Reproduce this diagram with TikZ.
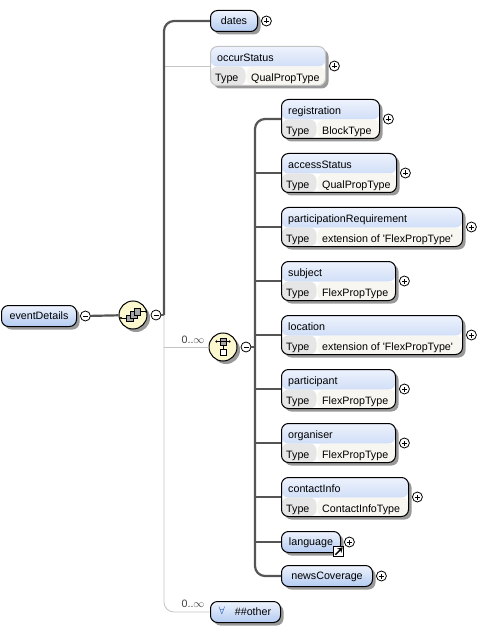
\documentclass[tikz,border=0pt]{standalone}
\usepackage{fontspec}
\setmainfont{Liberation Sans}
\usetikzlibrary{positioning,shadows,arrows.meta}
\definecolor{headtop}{HTML}{EEF3FD}
\definecolor{headbot}{HTML}{B4CBF1}
\definecolor{cellgray}{HTML}{E6E6E6}
\definecolor{cellcream}{HTML}{F8F6F1}
\definecolor{compfill}{HTML}{FBF7CF}
\definecolor{barline}{HTML}{555555}
\definecolor{thinline}{HTML}{C4C4C4}

\newcommand{\elembox}[6]{%
    \node[typedbox,draw=#1,minimum width=#6pt] (#2) at (#4,#5) {};
    \node[lbl] (#2 title) at ([xshift=7pt,yshift=-15.5pt]#2.north west) {#2};
    \node[lbl] (#2 key) at ([xshift=5pt,yshift=-35.5pt]#2.north west) {Type};
    \node[lbl] (#2 val) at ([xshift=41pt,yshift=-35.5pt]#2.north west) {#3};
    \node[plus,right=3pt of #2] (#2 plus) {};
}

\begin{document}
\begin{tikzpicture}[
        x=1pt,y=-1pt,
        font=\fontsize{10.7}{12}\selectfont,
        lbl/.style={inner sep=0pt,anchor=base west},
        boxshadow/.style={drop shadow={shadow xshift=3pt,shadow yshift=-3pt,fill=black,opacity=.4}},
        pill/.style={draw=black,line width=1pt,rounded corners=7pt,top color=headtop,bottom color=headbot,
            minimum height=21pt,text height=10pt,text depth=2.5pt,inner sep=0pt,anchor=north west,boxshadow},
        typedbox/.style={line width=1pt,rounded corners=7pt,fill=white,minimum height=39pt,inner sep=0pt,
            anchor=north west,boxshadow,
            path picture={
                \shade[top color=headtop,bottom color=headbot] (path picture bounding box.north west)
                    rectangle ([yshift=-20pt]path picture bounding box.north east);
                \fill[cellgray] ([yshift=-20pt]path picture bounding box.north west)
                    rectangle ([xshift=35pt]path picture bounding box.south west);
                \fill[cellcream] ([xshift=36pt,yshift=-20pt]path picture bounding box.north west)
                    rectangle (path picture bounding box.south east);
            }},
        plus/.style={circle,draw=black,line width=.8pt,fill=white,minimum size=10pt,inner sep=0pt,
            path picture={
                \draw (path picture bounding box.center) ++(-2.5pt,0pt) -- ++(5pt,0pt);
                \draw (path picture bounding box.center) ++(0pt,-2.5pt) -- ++(0pt,5pt);
            }},
        minus/.style={circle,draw=black,line width=.8pt,fill=white,minimum size=10pt,inner sep=0pt,
            path picture={
                \draw (path picture bounding box.center) ++(-2.5pt,0pt) -- ++(5pt,0pt);
            }},
        compositor/.style={circle,draw=black,line width=1pt,fill=compfill,minimum size=28pt,inner sep=0pt,boxshadow},
        square/.style={draw=black,fill=gray!70,minimum size=6.5pt,inner sep=0pt},
        bar/.style={draw=barline,line width=2.2pt},
        thinbar/.style={draw=thinline,line width=.8pt},
        occ/.style={inner sep=0pt,text=black!75}
    ]
    \useasboundingbox (0,0) rectangle (483,628);

    \node[pill,minimum width=75pt] (eventDetails) at (1,305) {eventDetails};
    \node[minus,right=3pt of eventDetails] (rootminus) {};
    \node[compositor] (seq) at (133,315) {};
    \node[minus] (seqminus) at (156,315) {};
    \coordinate (seqjoin) at (164,315);

    \node[pill,minimum width=47pt] (dates) at (210,10) {dates};
    \node[plus,right=3pt of dates] (datesplus) {};

    \elembox{thinline}{occurStatus}{QualPropType}{210}{46}{115}

    \node[compositor] (cho) at (223,347) {};
    \node[minus] (chominus) at (246,347) {};
    \coordinate (chojoin) at (255,347);

    \foreach \ttl/\ty/\yy/\boxw in {
        registration/BlockType/99/98,
        accessStatus/QualPropType/153/115,
        participationRequirement/extension of {\textquotesingle}FlexPropType{\textquotesingle}/207/181,
        subject/FlexPropType/261/114,
        location/extension of {\textquotesingle}FlexPropType{\textquotesingle}/315/181,
        participant/FlexPropType/369/114,
        organiser/FlexPropType/423/114,
        contactInfo/ContactInfoType/477/127}
    {
        \elembox{black}{\ttl}{\ty}{281}{\yy}{\boxw}
    }

    \node[pill,minimum width=59pt] (language) at (281,531) {language};
    \node[plus,right=3pt of language] (languageplus) {};
    \node[draw=black,fill=white,minimum size=10pt,inner sep=0pt] (languagelink) at (338.5,551.5) {};
    \draw[-{Stealth[length=5pt,width=6pt]},line width=1.4pt] ([xshift=2pt,yshift=2pt]languagelink.south west) -- ([xshift=-1pt,yshift=-1pt]languagelink.north east);
    \node[pill,minimum width=91pt] (newsCoverage) at (281,565) {newsCoverage};
    \node[plus,right=3pt of newsCoverage] (newsCoverageplus) {};

    \node[pill,minimum width=70pt] (other) at (210,601) {\hspace*{15pt}\#\#other};
    \node[inner sep=0pt,text=blue!60!cyan!70!black] (otherany) at (222,611) {$\forall$};

    \draw[bar] (rootminus) -- (seq);
    \draw[bar] (seqminus) -- (seqjoin);
    \draw[thinbar] (seqjoin |- occurStatus.west) -- (occurStatus.west);
    \draw[thinbar] (seqjoin |- cho) -- (cho);
    \draw[thinbar,rounded corners=10pt] (seqjoin) |- (other.west);
    \draw[bar,rounded corners=10pt] (seqjoin) |- (dates.west);
    \draw[bar] (chominus) -- (chojoin);
    \draw[bar,rounded corners=10pt] (chojoin) |- (registration.west);
    \draw[bar,rounded corners=10pt] (chojoin) |- (newsCoverage.west);
    \foreach \ttl in {accessStatus,participationRequirement,subject,location,participant,organiser,contactInfo,language}
        \draw[bar] (chojoin |- \ttl.west) -- (\ttl.west);

    \node[occ] (choocc) at (193,340) {0..$\infty$};
    \node[occ] (otherocc) at (193,604) {0..$\infty$};

    \node[square] (seqa) at ([xshift=-3.5pt,yshift=-3pt]seq.center) {};
    \node[square] (seqb) at ([xshift=.5pt,yshift=.5pt]seq.center) {};
    \node[square] (seqc) at ([xshift=4pt,yshift=3.5pt]seq.center) {};
    \draw[{Circle[length=2pt]}-] ([xshift=-9.5pt]seqa.center) -- (seqa);
    \draw[-{Circle[length=2pt]}] (seqc) -- ([xshift=10pt]seqc.center);

    \node[square] (choa) at ([yshift=5.5pt]cho.center) {};
    \node[square,fill=white] (chob) at ([yshift=-5pt]cho.center) {};
    \draw (choa) -- (chob);
    \draw[{Circle[length=2pt]}-{Circle[length=2pt]}] ([xshift=-7.5pt]choa.center) -- ([xshift=7.5pt]choa.center);
\end{tikzpicture}
\end{document}
